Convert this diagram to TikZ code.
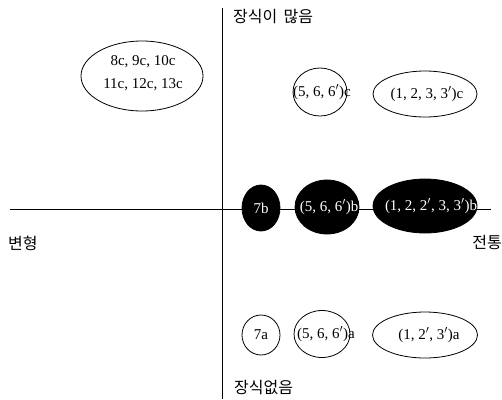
\documentclass[tikz,border=0pt]{standalone}
\usepackage{fontspec}
\setmainfont{Liberation Serif}
\newfontfamily\kor{Noto Sans CJK KR}
\usetikzlibrary{shapes.geometric}
\begin{document}
\begin{tikzpicture}[x=1pt,y=-1pt,
  ring/.style={draw,ellipse,thick,inner sep=0pt},
  blob/.style={ring,fill=black},
  txt/.style={font=\fontsize{15}{17}\selectfont,inner sep=0pt},
  wtxt/.style={txt,text=white},
  axlbl/.style={font=\kor\fontsize{16}{18}\selectfont,inner sep=0pt}]
\useasboundingbox (0,0) rectangle (502,399);
% axes
\coordinate (top) at (222,8);
\coordinate (bot) at (222,399);
\coordinate (lft) at (10,209);
\coordinate (rgt) at (491,209);
\draw[thick] (top) -- (bot);
\draw[thick] (lft) -- (rgt);
\node[axlbl,anchor=west] (many) at (233,17) {장식이 \,많음};
\node[axlbl,anchor=west] (none) at (234,387) {장식없음};
\node[axlbl,anchor=west] (var) at (8,243) {변형};
\node[axlbl,anchor=east] (trad) at (502,242) {전통};
% decorated
\node[ring,minimum width=122pt,minimum height=70pt] (c8) at (142,76) {};
\node[txt] (c8a) at (143,62) {8c, 9c, 10c};
\node[txt] (c8b) at (143,85) {11c, 12c, 13c};
\node[ring,minimum width=54pt,minimum height=48pt] (c5) at (320,92) {};
\node[txt] (c5t) at (322,92) {(5, 6, 6$'$)c};
\node[ring,minimum width=104pt,minimum height=46pt] (c1) at (425,94) {};
\node[txt] (c1t) at (427,94) {(1, 2, 3, 3$'$)c};
% middle
\node[blob,minimum width=38pt,minimum height=46pt] (b7) at (261,208) {};
\node[wtxt] (b7t) at (b7) {7b};
\node[blob,minimum width=64pt,minimum height=54pt] (b5) at (327,207) {};
\node[wtxt] (b5t) at (329,207) {(5, 6, 6$'$)b};
\node[blob,minimum width=104pt,minimum height=54pt] (b1) at (425,206) {};
\node[wtxt] (b1t) at (431,206) {(1, 2, 2$'$, 3, 3$'$)b};
% plain
\node[ring,minimum width=38pt,minimum height=40pt] (a7) at (261,335) {};
\node[txt] (a7t) at (a7) {7a};
\node[ring,minimum width=56pt,minimum height=47pt] (a5) at (322,334) {};
\node[txt] (a5t) at (326,334) {(5, 6, 6$'$)a};
\node[ring,minimum width=105pt,minimum height=46pt] (a1) at (425,335) {};
\node[txt] (a1t) at (429,335) {(1, 2$'$, 3$'$)a};
\end{tikzpicture}
\end{document}
